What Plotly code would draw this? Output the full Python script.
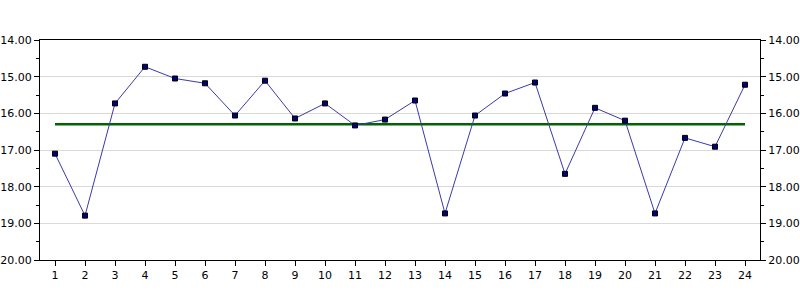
import plotly.graph_objects as go

categories = list(range(1, 25))
values = [17.10, 18.79, 15.73, 14.73, 15.05, 15.18, 16.06, 15.11, 16.14, 15.73,
          16.33, 16.17, 15.65, 18.73, 16.06, 15.46, 15.16, 17.65, 15.85, 16.20,
          18.73, 16.67, 16.91, 15.22]
average = 16.30
y_ticks = [14, 15, 16, 17, 18, 19, 20]

font = dict(family="DejaVu Sans", size=11, color="black")

fig = go.Figure()
fig.add_trace(go.Scatter(
    x=[categories[0], categories[-1]], y=[average, average],
    mode="lines", line=dict(color="#006400", width=2.5),
    hoverinfo="skip", showlegend=False))
fig.add_trace(go.Scatter(
    x=categories, y=values, mode="lines+markers",
    line=dict(color="#3a3aaa", width=1),
    marker=dict(symbol="square", size=5, color="#000080",
                line=dict(color="#000000", width=1)),
    showlegend=False))
fig.add_trace(go.Scatter(
    x=categories, y=values, yaxis="y2", mode="lines",
    line=dict(width=0), opacity=0, hoverinfo="skip", showlegend=False))

yax = dict(range=[20, 14], autorange=False, tickvals=y_ticks,
           tickformat=".2f", ticks="outside", ticklen=5, tickcolor="black",
           showline=True, linecolor="black", linewidth=1,
           zeroline=False, tickfont=font, automargin=False,
           minor=dict(dtick=0.5, tick0=14, ticks="outside", ticklen=3,
                      tickcolor="black", showgrid=False))

fig.update_layout(
    width=800, height=300,
    margin=dict(l=40, r=40, t=40, b=40),
    paper_bgcolor="white", plot_bgcolor="white",
    font=font,
    xaxis=dict(range=[0.5, 24.5], tickvals=categories, ticks="outside",
               ticklen=5, tickcolor="black", showline=True, linecolor="black",
               linewidth=1, mirror=True, showgrid=False, zeroline=False,
               tickfont=font, automargin=False),
    yaxis=dict(**yax, side="left", showgrid=True, gridcolor="#d9d9d9",
               gridwidth=1),
    yaxis2=dict(**yax, side="right", overlaying="y", showgrid=False),
)

fig.write_html("out.html")
